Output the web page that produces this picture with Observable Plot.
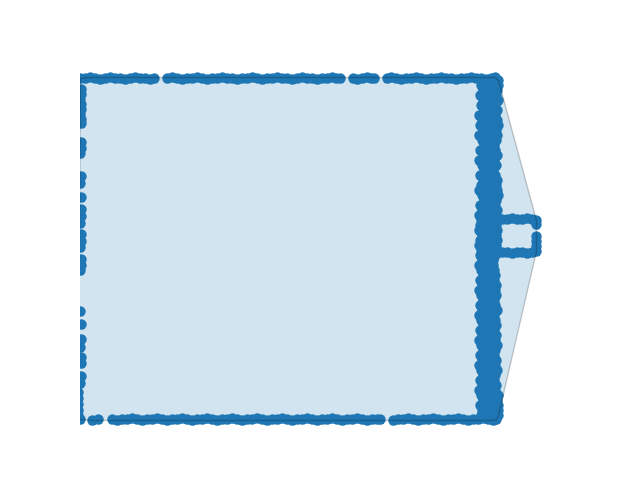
<!DOCTYPE html>
<html>
<head>
<meta charset="utf-8">
<script src="https://cdn.jsdelivr.net/npm/d3@7"></script>
<script src="https://cdn.jsdelivr.net/npm/@observablehq/plot@0.6"></script>
<style>
  html, body { margin: 0; padding: 0; background: #fff; }
  #chart svg { display: block; }
</style>
</head>
<body>
<div id="chart"></div>
<script>
// Points along the top edge [x, y]
const topEdge = [
  [0,341],[5,341],[10,342],[15,341],[20,340],[25,341],[30,342],[35,341],[40,341],[45,340],
  [50,341],[55,342],[60,341],[65,341],[70,340],[74,341],
  [87,341],[92,342],[97,341],[102,340],[107,341],[112,341],[117,342],[122,341],[127,340],[132,341],
  [137,341],[142,342],[147,341],[152,341],[157,340],[162,341],[167,341],[172,342],[177,341],[182,340],
  [187,341],[192,341],[197,342],[202,341],[207,341],[212,340],[217,341],[222,342],[227,341],[232,341],
  [237,340],[242,341],[247,341],[252,342],[256,341],[260,341],
  [273,341],[277,340],[282,341],[287,342],[291,341],[294,341],
  [307,341],[311,342],[316,341],[321,340],[326,341],[331,341],[336,342],[341,341],[346,340],[351,341],
  [356,341],[361,342],[366,341],[371,341],[376,340],[381,341],[386,341],[391,342],[396,341],[401,341],
  [406,340],[411,341],[415,342]
];
// Points along the bottom edge [x, y]
const bottomEdge = [
  [0,0],[12,-1],[18,0],
  [32,0],[37,-1],[42,0],[47,0],[52,1],[57,0],[62,-1],[67,0],[72,0],[77,1],[82,0],[87,-1],
  [92,0],[97,0],[102,1],[107,0],[112,-1],[117,0],[122,0],[127,1],[132,0],[137,-1],[142,0],
  [147,0],[152,1],[157,0],[162,-1],[167,0],[172,0],[177,1],[182,0],[187,-1],[192,0],[197,0],
  [202,1],[207,0],[212,-1],[217,0],[222,0],[227,1],[232,0],[237,-1],[242,0],[247,0],[252,1],
  [257,0],[262,-1],[267,0],[272,0],[277,1],[282,0],[287,-1],[292,0],[297,0],[300,0],
  [313,-1],[318,0],[323,0],[328,1],[333,0],[338,-1],[343,0],[348,0],[353,1],[358,0],[363,-1],
  [368,0],[373,0],[378,1],[383,0],[388,-1],[393,0],[398,0],[403,1],[408,0],[413,-1],[416,0]
];
// Points along the left edge [x, y]
const leftEdge = [
  [1,330],[1,325],[0,320],[1,315],[1,310],[0,305],[1,300],[1,296],
  [1,277],[1,271],[0,266],
  [1,243],[0,236],
  [1,222],
  [1,210],[1,203],[0,196],
  [1,185],[1,178],[0,172],
  [1,160],[1,154],[0,149],
  [0,108],
  [1,95],
  [1,80],[0,72],
  [1,62],[1,56],
  [1,43],[0,36],
  [-2,27],[-2,21],[-2,15],[-2,9],[-2,4]
];
// Right edge cluster: [y, x1, x2, x3]
const rightRows = [
  [339,404,411,418],[334,401,410,418],[329,403,410,417],[324,400,408,416],[319,403,411,418],
  [314,401,409,415],[309,404,411,417],[304,399,407,415],[299,402,410,417],[294,400,409,418],
  [289,403,410,416],[284,399,408,417],[279,402,410,416],[274,404,409,414],[269,400,408,415],
  [264,403,411,417],[259,399,407,414],[254,402,410,416],[249,404,409,413],[244,400,408,415],
  [239,403,411,417],[234,401,409,416],[229,399,408,417],[224,402,410,418],[219,404,411,416],
  [214,400,408,415],[209,402,410,417],[204,399,409,416],[199,401,410,417],[194,400,409,416],
  [189,399,408,417],[184,402,410,416],[179,400,409,417],[174,399,408,416],[169,401,410,417],
  [164,400,409,415],[159,402,408,413],[154,399,407,413],[149,401,409,414],[144,403,410,415],
  [139,400,408,414],[134,402,409,416],[129,399,408,415],[124,401,410,416],[119,403,409,414],
  [114,400,408,415],[109,402,410,417],[104,399,408,414],[99,401,409,415],[94,403,410,416],
  [89,400,408,414],[84,402,410,416],[79,399,408,415],[74,401,409,417],[69,403,410,415],
  [64,400,408,414],[59,402,410,416],[54,399,408,415],[49,401,409,417],[44,403,410,415],
  [39,400,408,414],[34,402,409,416],[29,399,408,415],[24,401,410,418],[19,403,411,417],
  [14,400,409,418],[9,402,411,418],[4,401,410,418]
];
// Small rectangle sticking out on the right [x, y]
const armEdge = [
  [422,200],[427,200],[432,201],[437,200],[442,200],[447,201],[452,200],
  [456,199],[456,195],
  [456,183],[456,178],[456,173],[456,168],
  [422,167],[427,167],[432,166],[437,167],[442,167],[447,166],[452,167]
];

const points = [
  ...topEdge,
  ...bottomEdge,
  ...leftEdge,
  ...rightRows.flatMap(([y, a, b, c]) => [[a, y], [b, y], [c, y]]),
  ...armEdge
];

const blue = "#1f77b4";

const chart = Plot.plot({
  width: 640,
  height: 480,
  marginLeft: 80,
  marginRight: 64,
  marginTop: 57.6,
  marginBottom: 52.8,
  x: {domain: [0, 496], axis: null},
  y: {domain: [-8.2, 361.4], axis: null},
  marks: [
    Plot.dot(points, {x: d => d[0], y: d => d[1], r: 5.2, fill: blue, clip: true}),
    Plot.hull(points, {x: d => d[0], y: d => d[1], fill: blue, fillOpacity: 0.2,
      stroke: "black", strokeOpacity: 0.2, strokeWidth: 1.4, clip: true})
  ]
});
document.getElementById("chart").appendChild(chart);
</script>
</body>
</html>
